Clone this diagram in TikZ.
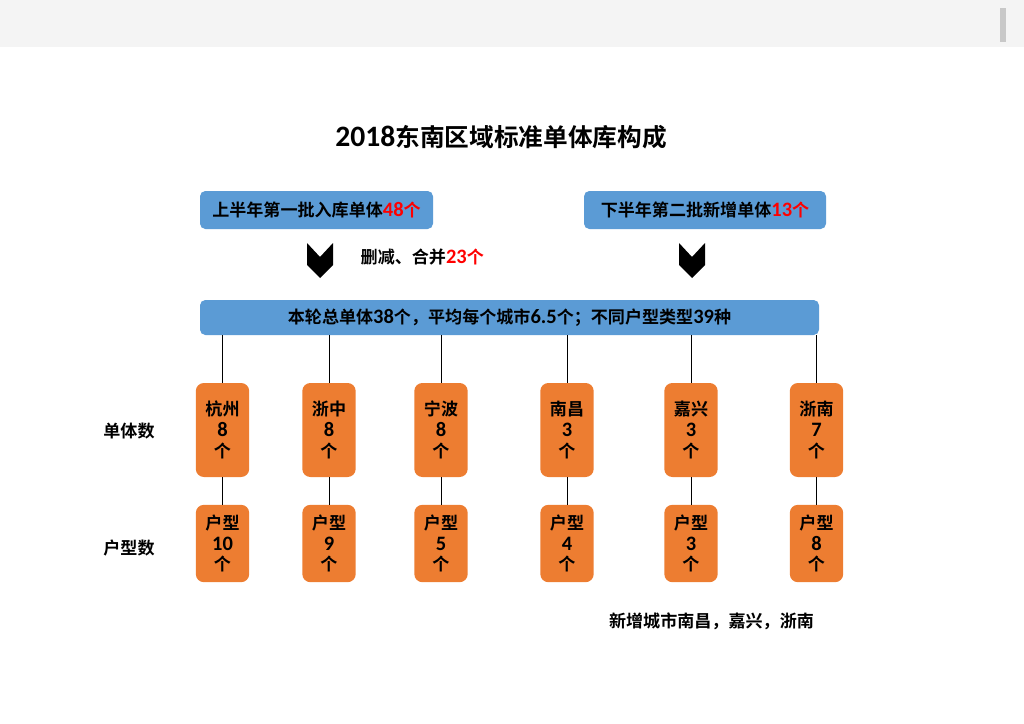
\documentclass[tikz,border=0pt]{standalone}
\usepackage{fontspec}
\setmainfont{Noto Sans CJK SC Bold}
\newfontfamily\digitfont{Carlito}[Scale=1.2]
\newcommand{\dg}[1]{{\digitfont\bfseries #1}}
\newcommand{\rednum}[1]{\textcolor{numred}{#1}}
\definecolor{boxblue}{HTML}{5B9BD5}
\definecolor{boxorange}{HTML}{ED7D31}
\definecolor{bandgray}{HTML}{F4F4F4}
\definecolor{bargray}{HTML}{C8C8C8}
\definecolor{numred}{HTML}{FF0000}
\usetikzlibrary{positioning}

\begin{document}
\begin{tikzpicture}[x=0.75pt,y=-0.75pt,
  every node/.style={font=\fontsize{12.8}{15.5}\selectfont},
  batch/.style={fill=boxblue,rounded corners=4pt,inner sep=0pt,minimum height=28.5pt},
  city/.style={fill=boxorange,rounded corners=6pt,inner sep=0pt,align=center,minimum width=40pt,minimum height=70.5pt},
  kind/.style={fill=boxorange,rounded corners=6pt,inner sep=0pt,align=center,minimum width=40pt,minimum height=58pt},
  link/.style={draw=black,line width=0.75pt}]
\useasboundingbox (0,0) rectangle (1024,724);
\fill[bandgray] (0,0) rectangle (1024,47);
\fill[bargray] (1000,8) rectangle (1006,42);

\node[font=\fontsize{18.5}{22}\selectfont] (title) at (501,137) {\dg{2018}东南区域标准单体库构成};

\node[batch,minimum width=174.75pt] (first) at (316.5,210) {上半年第一批入库单体\rednum{\dg{48}个}};
\node[batch,minimum width=181.5pt] (second) at (705,210) {下半年第二批新增单体\rednum{\dg{13}个}};
\foreach \cx in {320,692}
  \fill[black] (\cx-13,243) -- (\cx,257) -- (\cx+13,243) -- (\cx+13,265) -- (\cx,278) -- (\cx-13,265) -- cycle;
\node[anchor=west] (merge) at (356,257) {删减、合并\rednum{\dg{23}个}};

\node[batch,minimum width=464.25pt,minimum height=26.25pt] (total) at (509.5,317.5)
  {本轮总单体\dg{38}个，平均每个城市\dg{6.5}个；不同户型类型\dg{39}种};

% city columns: name/x/units/types
\foreach \name/\cx/\units/\types [count=\i] in {杭州/222.5/8/10,浙中/329/8/9,宁波/441/8/5,南昌/567/3/4,嘉兴/691/3/3,浙南/816.5/7/8}{
  \node[city] (c\i) at (\cx,430) {\name\\\dg{\units}\\个};
  \node[kind] (k\i) at (\cx,543.5) {户型\\\dg{\types}\\个};
  \draw[link] (total.south -| c\i.north) -- (c\i.north);
  \draw[link] (c\i.south) -- (k\i.north);
}

\node (unitlabel) at (129,431) {单体数};
\node (typelabel) at (129,548) {户型数};
\node (newcity) at (711.5,621) {新增城市南昌，嘉兴，浙南};
\end{tikzpicture}
\end{document}
